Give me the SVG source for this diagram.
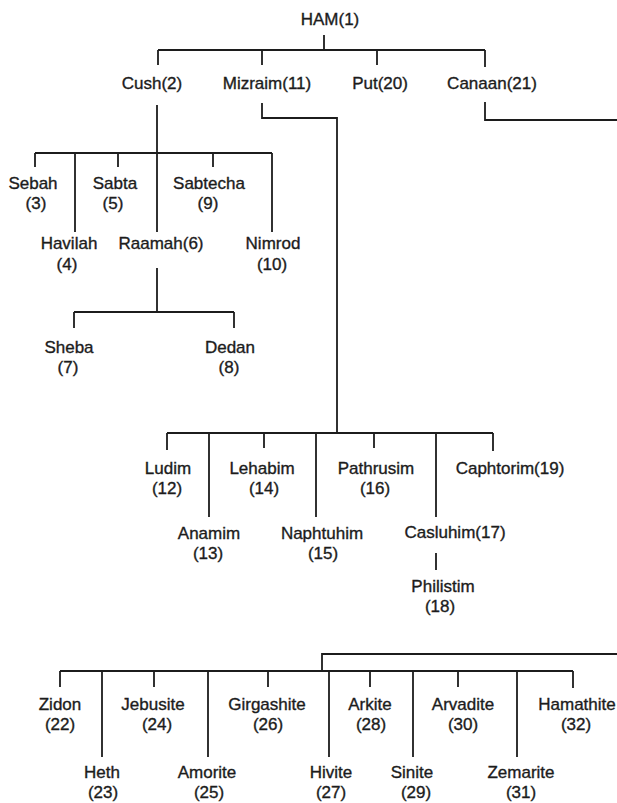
<svg xmlns="http://www.w3.org/2000/svg" width="617" height="803" viewBox="0 0 617 803">
<style>
text{font-family:"Liberation Sans",Arial,sans-serif;font-size:17px;fill:#1c1c1c;stroke:#1c1c1c;stroke-width:0.35;text-anchor:middle}
.c path{fill:none;stroke:#1c1c1c;stroke-width:1.8}
</style>
<rect width="617" height="803" fill="#ffffff"/>
<g class="c" id="connectors">
<path d="M324 35V50M158 50H485M158 50V65M262 50V65M377 50V65M485 50V67"/>
<path d="M157 105V232M35 153H272M35 153V167M75 153V232M118 153V167M213 153V167M272 153V232"/>
<path d="M157 268V312M74 312H234M74 312V328M234 312V328"/>
<path d="M262 103V118H337V433M167 433H493M167 433V450M209 433V517M264 433V448M316 433V517M374 433V448M436 433V517M493 433V451M436 553V570"/>
<path d="M485 102V120H617"/>
<path d="M617 654H322V671M60 671H573M60 671V687M102 671V757M154 671V687M208 671V757M268 671V687M329 671V757M370 671V687M413 671V757M458 671V687M517 671V757M573 671V688"/>
</g>
<g id="n1"><text x="330" y="25">HAM(1)</text></g>
<g id="n2"><text x="152" y="89">Cush(2)</text></g>
<g id="n11"><text x="267" y="89">Mizraim(11)</text></g>
<g id="n20"><text x="380" y="89">Put(20)</text></g>
<g id="n21"><text x="492" y="89">Canaan(21)</text></g>
<g id="n3"><text x="33" y="189">Sebah</text><text x="36" y="209">(3)</text></g>
<g id="n5"><text x="115" y="189">Sabta</text><text x="113" y="209">(5)</text></g>
<g id="n9"><text x="209" y="189">Sabtecha</text><text x="208" y="209">(9)</text></g>
<g id="n4"><text x="69" y="249">Havilah</text><text x="67" y="270">(4)</text></g>
<g id="n6"><text x="161" y="249">Raamah(6)</text></g>
<g id="n10"><text x="273" y="249">Nimrod</text><text x="272" y="270">(10)</text></g>
<g id="n7"><text x="69" y="353">Sheba</text><text x="68" y="373">(7)</text></g>
<g id="n8"><text x="230" y="353">Dedan</text><text x="229" y="373">(8)</text></g>
<g id="n12"><text x="168" y="474">Ludim</text><text x="167" y="494">(12)</text></g>
<g id="n14"><text x="262" y="474">Lehabim</text><text x="264" y="494">(14)</text></g>
<g id="n16"><text x="376" y="474">Pathrusim</text><text x="375" y="494">(16)</text></g>
<g id="n19"><text x="510" y="474">Caphtorim(19)</text></g>
<g id="n13"><text x="209" y="539">Anamim</text><text x="208" y="559">(13)</text></g>
<g id="n15"><text x="322" y="539">Naphtuhim</text><text x="323" y="559">(15)</text></g>
<g id="n17"><text x="455" y="538">Casluhim(17)</text></g>
<g id="n18"><text x="443" y="592">Philistim</text><text x="440" y="612">(18)</text></g>
<g id="n22"><text x="60" y="710">Zidon</text><text x="60" y="730">(22)</text></g>
<g id="n24"><text x="153" y="710">Jebusite</text><text x="157" y="730">(24)</text></g>
<g id="n26"><text x="267" y="710">Girgashite</text><text x="268" y="730">(26)</text></g>
<g id="n28"><text x="370" y="710">Arkite</text><text x="371" y="730">(28)</text></g>
<g id="n30"><text x="463" y="710">Arvadite</text><text x="463" y="730">(30)</text></g>
<g id="n32"><text x="577" y="710">Hamathite</text><text x="576" y="730">(32)</text></g>
<g id="n23"><text x="102" y="778">Heth</text><text x="103" y="798">(23)</text></g>
<g id="n25"><text x="207" y="778">Amorite</text><text x="209" y="798">(25)</text></g>
<g id="n27"><text x="331" y="778">Hivite</text><text x="331" y="798">(27)</text></g>
<g id="n29"><text x="412" y="778">Sinite</text><text x="416" y="798">(29)</text></g>
<g id="n31"><text x="521" y="778">Zemarite</text><text x="521" y="798">(31)</text></g>
</svg>
